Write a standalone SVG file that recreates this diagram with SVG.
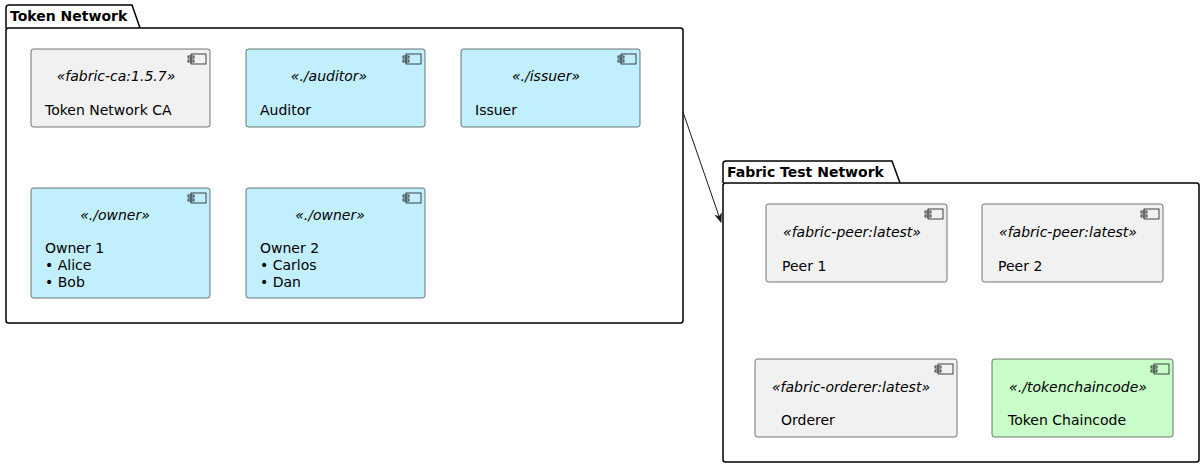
<svg xmlns="http://www.w3.org/2000/svg" width="1204" height="468" viewBox="0 0 1204 468">
<defs>
<style>
text{font-family:"DejaVu Sans",sans-serif;font-size:14px;fill:#000}
.st{font-style:italic;text-anchor:middle}
.pk{font-weight:bold}
.pkg{fill:#fff;stroke:#000;stroke-width:1.5}
.c{stroke:#181818;stroke-width:0.6}
.g{fill:#F1F1F1}.b{fill:#C2EFFD}.gr{fill:#C8FCC8}
.ic{fill:none;stroke:#181818;stroke-width:0.8}
</style>
<marker id="ah" viewBox="0 0 10 10" refX="9" refY="5" markerWidth="10" markerHeight="10" orient="auto" markerUnits="userSpaceOnUse"><path d="M0,1 L10,5 L0,9 L3,5 Z" fill="#181818"/></marker>
<g id="icon"><rect x="0" y="0" width="15" height="10" class="ic"/><rect x="-3" y="2" width="6" height="2" fill="#fff" class="ic"/><rect x="-3" y="6" width="6" height="2" fill="#fff" class="ic"/></g>
</defs>
<g id="pkg-token">
<path class="pkg" d="M6,28 L6,8 Q6,5 9,5 L132,5 L140,28"/>
<rect class="pkg" x="6" y="28" width="677" height="295" rx="2.5"/>
<text class="pk" x="10" y="21">Token Network</text>
</g>
<g id="pkg-fabric">
<path class="pkg" d="M723,183 L723,164 Q723,161 726,161 L892,161 L900,183"/>
<rect class="pkg" x="723" y="183" width="476" height="279" rx="2.5"/>
<text class="pk" x="727" y="177">Fabric Test Network</text>
</g>
<g id="ca"><rect class="c g" x="31" y="49" width="179" height="78" rx="2.5"/><use href="#icon" x="191" y="54"/><text class="st" x="116" y="81">«fabric-ca:1.5.7»</text><text x="45" y="115">Token Network CA</text></g>
<g id="auditor"><rect class="c b" x="246" y="49" width="179" height="78" rx="2.5"/><use href="#icon" x="406" y="54"/><text class="st" x="329" y="81">«./auditor»</text><text x="260" y="115">Auditor</text></g>
<g id="issuer"><rect class="c b" x="461" y="49" width="179" height="78" rx="2.5"/><use href="#icon" x="621" y="54"/><text class="st" x="546" y="81">«./issuer»</text><text x="475" y="115">Issuer</text></g>
<g id="owner1"><rect class="c b" x="31" y="188" width="179" height="110" rx="2.5"/><use href="#icon" x="191" y="193"/><text class="st" x="115" y="220">«./owner»</text><text x="45" y="253">Owner 1</text><text x="45" y="270">• Alice</text><text x="45" y="287">• Bob</text></g>
<g id="owner2"><rect class="c b" x="246" y="188" width="179" height="110" rx="2.5"/><use href="#icon" x="406" y="193"/><text class="st" x="330" y="220">«./owner»</text><text x="260" y="253">Owner 2</text><text x="260" y="270">• Carlos</text><text x="260" y="287">• Dan</text></g>
<g id="peer1"><rect class="c g" x="766" y="204" width="181" height="78" rx="2.5"/><use href="#icon" x="928" y="209"/><text class="st" x="852" y="237">«fabric-peer:latest»</text><text x="782" y="271">Peer 1</text></g>
<g id="peer2"><rect class="c g" x="982" y="204" width="181" height="78" rx="2.5"/><use href="#icon" x="1144" y="209"/><text class="st" x="1068" y="237">«fabric-peer:latest»</text><text x="998" y="271">Peer 2</text></g>
<g id="orderer"><rect class="c g" x="755" y="359" width="202" height="78" rx="2.5"/><use href="#icon" x="938" y="364"/><text class="st" x="851" y="392">«fabric-orderer:latest»</text><text x="781" y="425">Orderer</text></g>
<g id="chaincode"><rect class="c gr" x="992" y="359" width="181" height="78" rx="2.5"/><use href="#icon" x="1154" y="364"/><text class="st" x="1078" y="392">«./tokenchaincode»</text><text x="1008" y="425">Token Chaincode</text></g>
<g id="connectors"><line x1="683" y1="112" x2="721" y2="222" stroke="#181818" stroke-width="1" marker-end="url(#ah)"/></g>
</svg>
